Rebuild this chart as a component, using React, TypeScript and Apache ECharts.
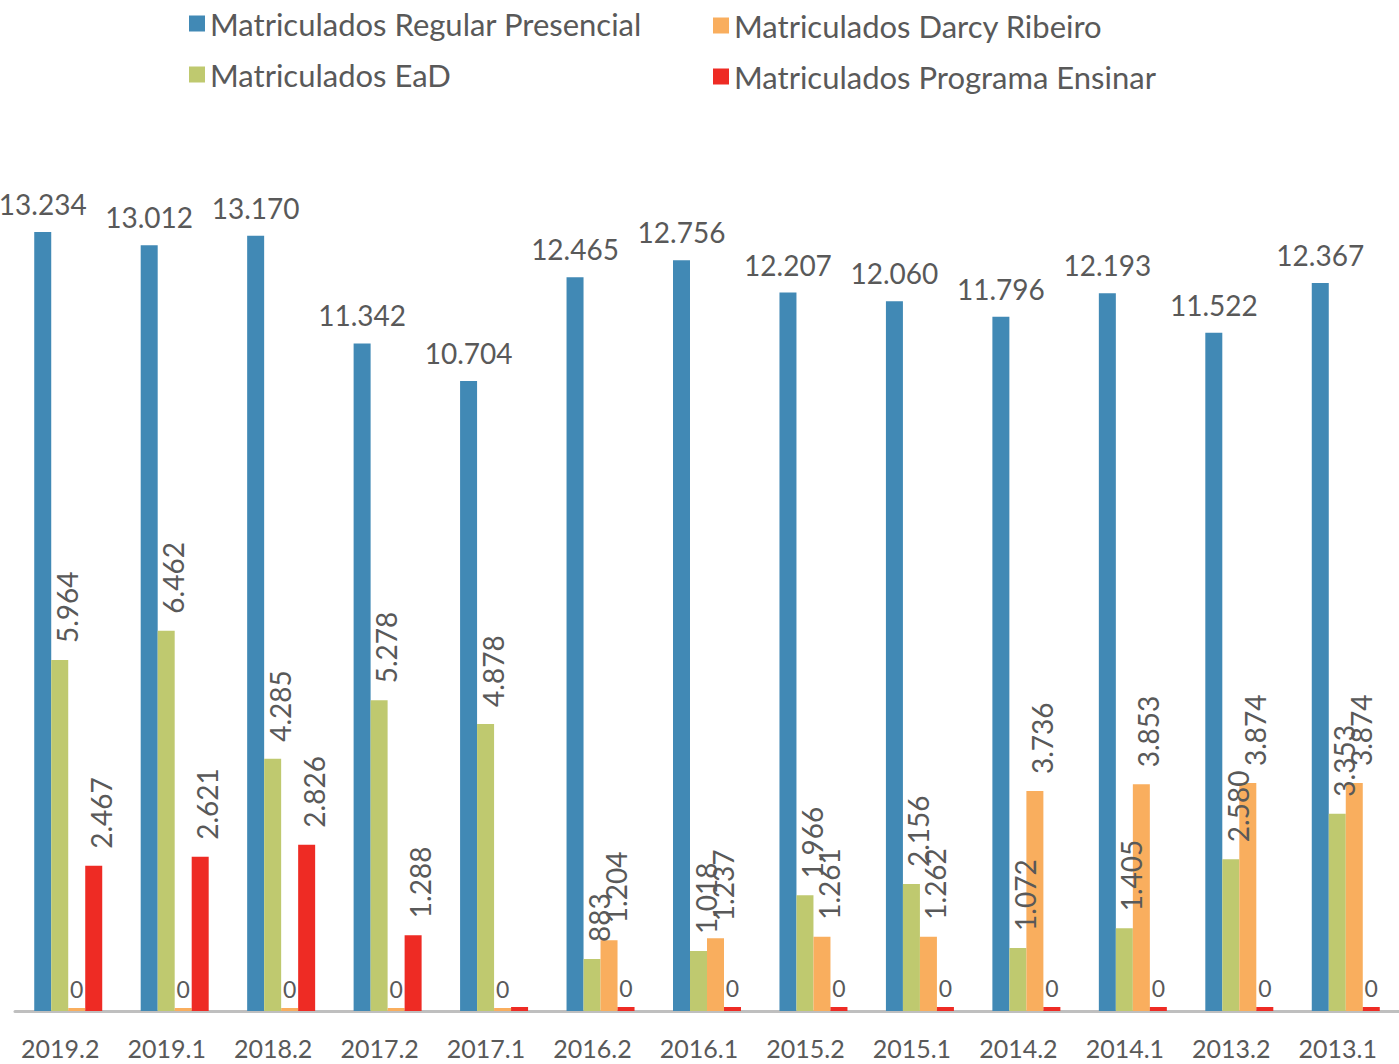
import React, { useEffect, useRef } from "react";
import * as echarts from "echarts";

const categories = ["2019.2", "2019.1", "2018.2", "2017.2", "2017.1", "2016.2", "2016.1", "2015.2", "2015.1", "2014.2", "2014.1", "2013.2", "2013.1"];
const regularPresencial = [13234, 13012, 13170, 11342, 10704, 12465, 12756, 12207, 12060, 11796, 12193, 11522, 12367];
const ead = [5964, 6462, 4285, 5278, 4878, 883, 1018, 1966, 2156, 1072, 1405, 2580, 3353];
const darcyRibeiro = [0, 0, 0, 0, 0, 1204, 1237, 1261, 1262, 3736, 3853, 3874, 3874];
const programaEnsinar = [2467, 2621, 2826, 1288, 0, 0, 0, 0, 0, 0, 0, 0, 0];

const seriesNames = ["Matriculados Regular Presencial", "Matriculados EaD", "Matriculados Darcy Ribeiro", "Matriculados Programa Ensinar"];
const colors = ["#4189b5", "#bfc96f", "#f9ae5e", "#ee2b24"];

const FONT = "Lato";
const TEXT = "#595959";

function fmt(v: number): string {
  const s = String(Math.round(v));
  return s.replace(/\B(?=(\d{3})+(?!\d))/g, ".");
}

const rotLabel = {
  show: true,
  position: "top",
  rotate: 90,
  align: "left",
  verticalAlign: "middle",
  distance: 17,
  offset: [0, 7],
  fontFamily: FONT,
  fontSize: 28,
  color: TEXT,
  formatter: (p: any) => fmt(p.value),
};

function buildData(vals: number[], hideZero?: (i: number) => boolean) {
  return vals.map((v, i) => {
    if (v === 0) {
      return {
        value: v,
        label: {
          show: hideZero ? !hideZero(i) : true,
          rotate: 0,
          align: "center",
          verticalAlign: "bottom",
          distance: 8,
          offset: [0, 0],
          fontSize: 23,
        },
      };
    }
    return { value: v };
  });
}

export default function App() {
  const ref = useRef<HTMLDivElement>(null);
  useEffect(() => {
    if (!ref.current) return;
    const chart = echarts.init(ref.current, null, { renderer: "svg" });
    const legendText = { fontFamily: FONT, fontSize: 31, color: TEXT };
    chart.setOption({
      animation: false,
      legend: [
        {
          data: [seriesNames[0], seriesNames[1]],
          orient: "vertical",
          left: 184,
          top: 3,
          itemWidth: 16,
          itemHeight: 16,
          itemGap: 20,
          icon: "rect",
          textStyle: legendText,
        },
        {
          data: [seriesNames[2], seriesNames[3]],
          orient: "vertical",
          left: 708,
          top: 5,
          itemWidth: 16,
          itemHeight: 16,
          itemGap: 20,
          icon: "rect",
          textStyle: legendText,
        },
      ],
      grid: { left: 15, width: 1404, top: 187, bottom: 53, containLabel: false },
      xAxis: {
        type: "category",
        data: categories,
        axisLine: { show: true, lineStyle: { color: "#bfbfbf", width: 3 } },
        axisTick: { show: false },
        axisLabel: {
          fontFamily: FONT,
          fontSize: 25,
          color: TEXT,
          margin: 24,
          interval: 0,
          padding: [0, 16, 0, 0],
        },
      },
      yAxis: {
        type: "value",
        min: 0,
        max: 14000,
        show: false,
        splitLine: { show: false },
      },
      series: [
        {
          name: seriesNames[0],
          type: "bar",
          data: regularPresencial,
          barWidth: 17,
          barGap: "0%",
          itemStyle: { color: colors[0] },
          label: {
            show: true,
            position: "top",
            distance: 14,
            fontFamily: FONT,
            fontSize: 28,
            color: TEXT,
            formatter: (p: any) => fmt(p.value),
          },
        },
        {
          name: seriesNames[1],
          type: "bar",
          data: buildData(ead),
          barWidth: 17,
          barGap: "0%",
          itemStyle: { color: colors[1] },
          label: rotLabel,
        },
        {
          name: seriesNames[2],
          type: "bar",
          data: buildData(darcyRibeiro),
          barWidth: 17,
          barGap: "0%",
          barMinHeight: 3,
          itemStyle: { color: colors[2] },
          label: rotLabel,
        },
        {
          name: seriesNames[3],
          type: "bar",
          data: buildData(programaEnsinar, (i) => darcyRibeiro[i] === 0),
          barWidth: 17,
          barGap: "0%",
          barMinHeight: 4,
          itemStyle: { color: colors[3] },
          label: rotLabel,
        },
      ],
    });
    return () => chart.dispose();
  }, []);
  return <div ref={ref} style={{ position: "absolute", left: 0, top: 0, width: 1399, height: 1064 }} />;
}
